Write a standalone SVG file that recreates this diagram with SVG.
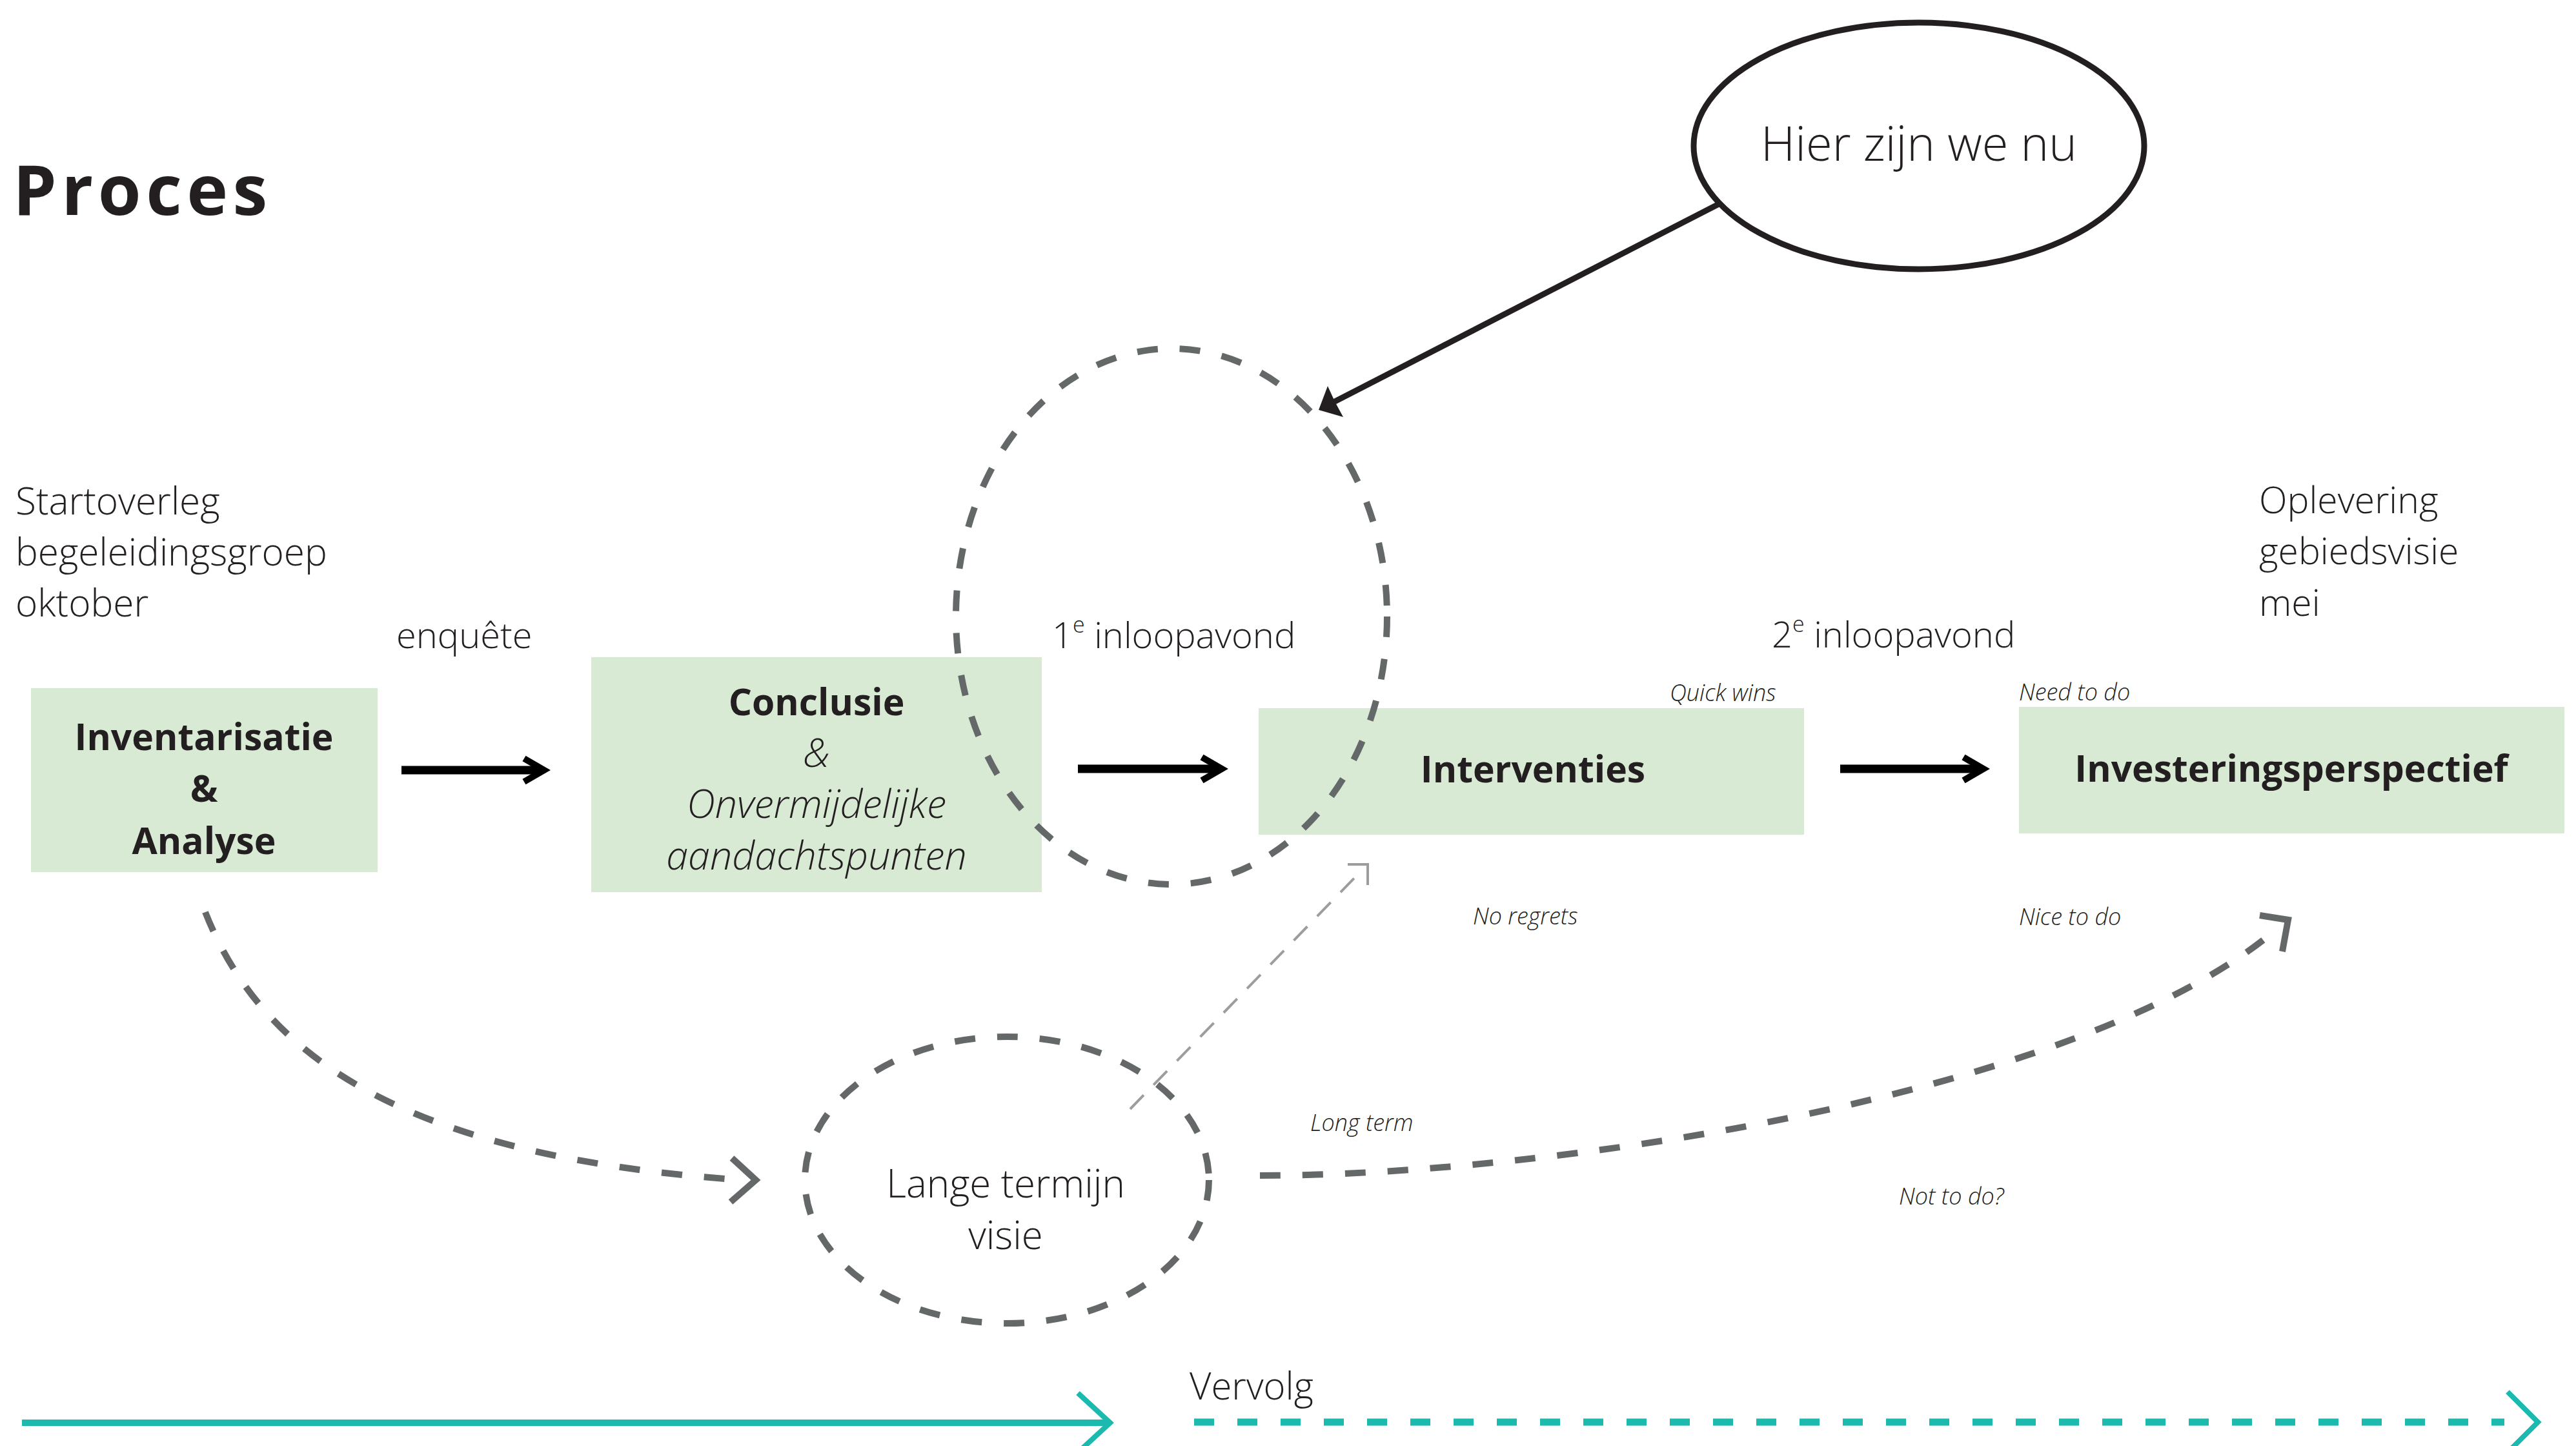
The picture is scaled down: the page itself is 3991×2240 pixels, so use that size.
<svg xmlns="http://www.w3.org/2000/svg" width="3991" height="2240" viewBox="0 0 3991 2240">
<style>
.t{font-family:"Open Sans","Liberation Sans",sans-serif;fill:#231f20}
.l{font-weight:300;font-size:56px}
.b{font-weight:700;font-size:57px}
.i{font-style:italic;font-weight:300;font-size:61px}
.s{font-style:italic;font-weight:300;font-size:36px}
.box{fill:#d8e9d4}
.dash{fill:none;stroke:#646869;stroke-width:10;stroke-dasharray:32 34}
.chev{fill:none;stroke:#646869;stroke-width:10;stroke-linejoin:miter}
.blk{fill:none;stroke:#000;stroke-width:13}
.blkh{fill:none;stroke:#000;stroke-width:10;stroke-linejoin:miter}
.lg{fill:none;stroke:#9d9d9d;stroke-width:4}
.teal{fill:none;stroke:#1bb9ae}
</style>
<rect width="3991" height="2240" fill="#fff"/>
<g id="title"><text class="t" x="20" y="333" font-size="108" font-weight="700" letter-spacing="7.5">Proces</text></g>
<g id="start"><text class="t l" x="24" y="797" style="font-size:58.5px">Startoverleg</text><text class="t l" x="24" y="876" style="font-size:58.5px">begeleidingsgroep</text><text class="t l" x="24" y="955" style="font-size:58.5px">oktober</text></g>
<g id="oplevering"><text class="t l" x="3500" y="795" style="font-size:57px">Oplevering</text><text class="t l" x="3500" y="874" style="font-size:57px">gebiedsvisie</text><text class="t l" x="3500" y="954" style="font-size:57px">mei</text></g>
<g id="labels">
<text class="t l" x="614" y="1004">enquête</text>
<text class="t l" x="1630" y="1004">1<tspan font-size="34" dy="-24">e</tspan><tspan dy="24"> inloopavond</tspan></text>
<text class="t l" x="2745" y="1003">2<tspan font-size="34" dy="-24">e</tspan><tspan dy="24"> inloopavond</tspan></text>
<text class="t s" x="2587" y="1086">Quick wins</text>
<text class="t s" x="3128" y="1085">Need to do</text>
<text class="t s" x="2282" y="1432">No regrets</text>
<text class="t s" x="3128" y="1433">Nice to do</text>
<text class="t s" x="2030" y="1752">Long term</text>
<text class="t s" x="2942" y="1866">Not to do?</text>
<text class="t l" x="1843" y="2168" style="font-size:58px">Vervolg</text>
</g>
<g id="inventarisatie"><rect class="box" x="48" y="1066" width="537" height="285"/>
<text class="t b" x="316" y="1162" text-anchor="middle">Inventarisatie</text>
<text class="t b" x="316" y="1242" text-anchor="middle">&amp;</text>
<text class="t b" x="316" y="1323" text-anchor="middle">Analyse</text></g>
<g id="conclusie"><rect class="box" x="916" y="1018" width="698" height="364"/>
<text class="t b" x="1265" y="1108" text-anchor="middle">Conclusie</text>
<text class="t i" x="1265" y="1188" text-anchor="middle">&amp;</text>
<text class="t i" x="1265" y="1267" text-anchor="middle">Onvermijdelijke</text>
<text class="t i" x="1265" y="1347" text-anchor="middle">aandachtspunten</text></g>
<g id="interventies"><rect class="box" x="1950" y="1097" width="845" height="196"/>
<text class="t b" x="2375" y="1212" text-anchor="middle">Interventies</text></g>
<g id="investering"><rect class="box" x="3128" y="1095" width="845" height="196"/>
<text class="t b" x="3550" y="1211" text-anchor="middle">Investeringsperspectief</text></g>
<g id="inloop-cirkel"><ellipse class="dash" cx="1815" cy="955" rx="334" ry="415"/></g>
<g id="lange-termijn"><ellipse class="dash" cx="1560" cy="1828" rx="313" ry="222"/>
<text class="t l" x="1558" y="1855" text-anchor="middle" style="font-size:60px">Lange termijn</text>
<text class="t l" x="1558" y="1935" text-anchor="middle" style="font-size:60px">visie</text></g>
<g id="hier"><ellipse cx="2973" cy="226" rx="349" ry="191" fill="#fff" stroke="#231f20" stroke-width="9"/>
<text class="t" x="2973" y="249" font-size="74" font-weight="300" text-anchor="middle">Hier zijn we nu</text></g>
<g id="connectors">
<path class="blk" d="M622,1193H838"/><path class="blkh" d="M812,1175L843,1193L812,1211"/>
<path class="blk" d="M1670,1191H1888"/><path class="blkh" d="M1862,1173L1893,1191L1862,1209"/>
<path class="blk" d="M2851,1191H3068"/><path class="blkh" d="M3042,1173L3073,1191L3042,1209"/>
<path d="M2665,315L2066,623" stroke="#231f20" stroke-width="9" fill="none"/>
<polygon points="2043,635 2057,598 2068,622 2081,646" fill="#231f20"/>
<path class="dash" d="M318,1413C400,1620 600,1790 1150,1828"/>
<path class="chev" d="M1134,1794L1171,1828L1132,1862"/>
<path class="dash" d="M1952,1821C2400,1821 3200,1700 3513,1451"/>
<path class="chev" d="M3501,1418L3545,1425L3536,1474"/>
<path class="lg" stroke-dasharray="30 22" d="M1751,1718L2113,1345"/>
<path class="lg" d="M2088,1339H2119V1371"/>
<path class="teal" stroke-width="10" d="M34,2204H1716"/>
<path class="teal" stroke-width="8" d="M1670,2158L1720,2204L1670,2250"/>
<path class="teal" stroke-width="11" stroke-dasharray="31 36" d="M1850,2203H3880"/>
<path class="teal" stroke-width="8" d="M3885,2156L3932,2203L3885,2250"/>
</g>
</svg>
